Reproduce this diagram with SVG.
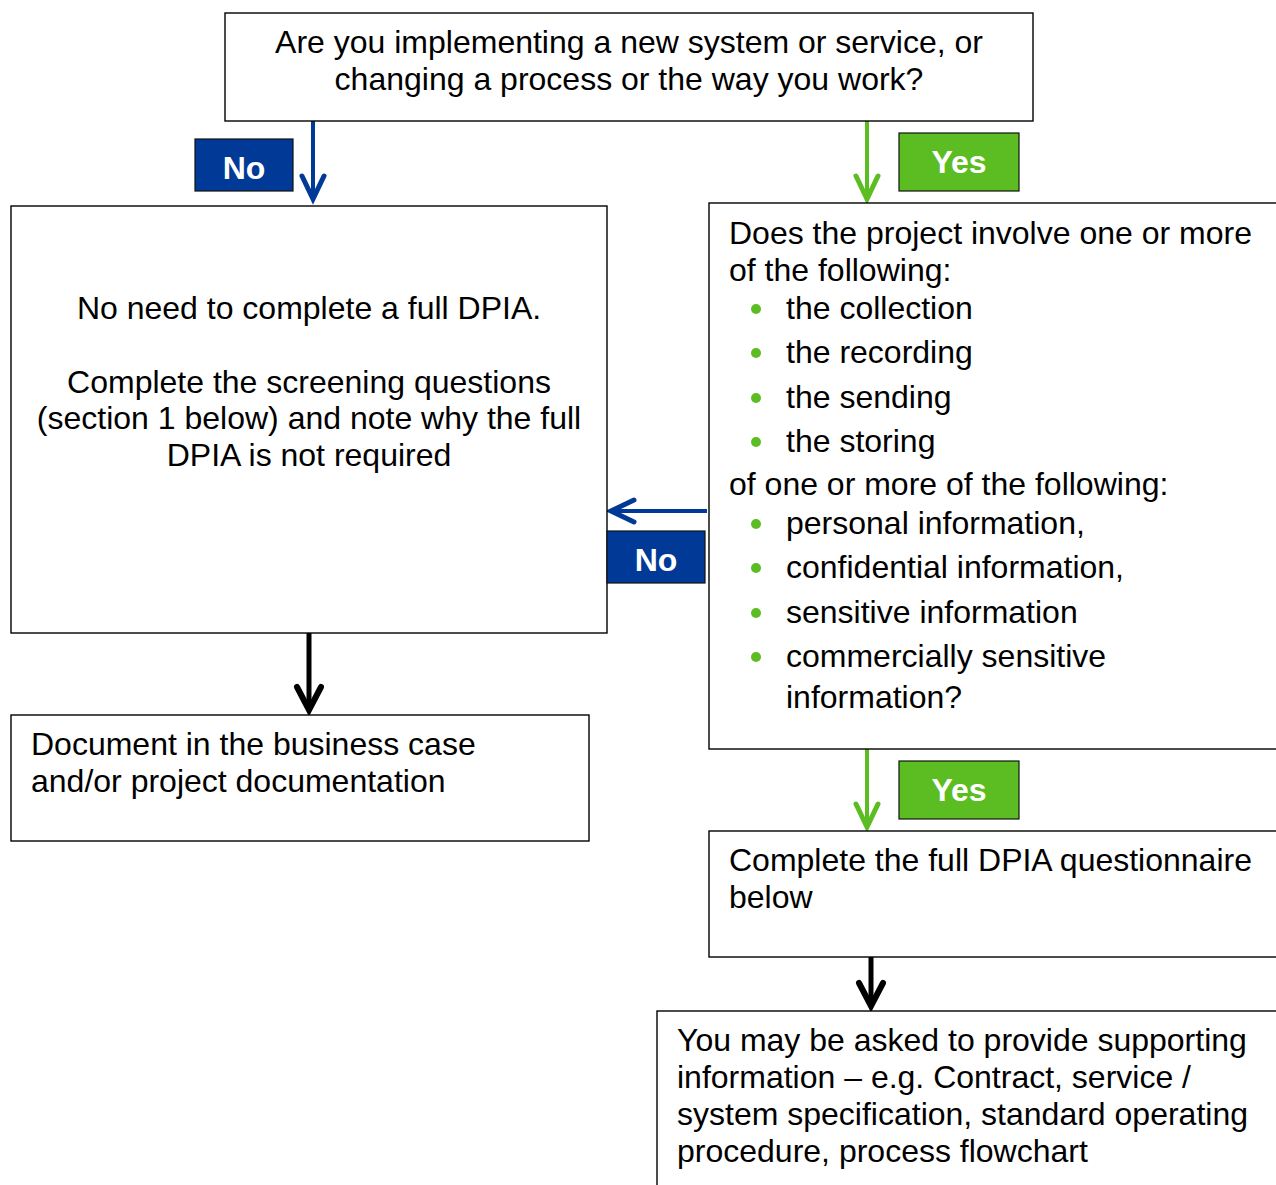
<svg xmlns="http://www.w3.org/2000/svg" width="1276" height="1185" viewBox="0 0 1276 1185">
<defs>
<style>
.box{fill:#fff;stroke:#000;stroke-width:1.4}
.t{font-family:"Liberation Sans",Arial,sans-serif;font-size:32px;fill:#000}
.c{text-anchor:middle}
.lbl{font-family:"Liberation Sans",Arial,sans-serif;font-size:32px;font-weight:bold;fill:#fff;text-anchor:middle}
.no{fill:#003A96;stroke:#111;stroke-width:1.2}
.yes{fill:#5BBD22;stroke:#111;stroke-width:1.2}
.bul{fill:#5BBD22}
.ab{stroke:#003A96;stroke-width:4;fill:none}
.ag{stroke:#5BBD22;stroke-width:4;fill:none}
.ak{stroke:#000;stroke-width:5;fill:none}
</style>
<marker id="mb" markerUnits="userSpaceOnUse" orient="auto" refX="0" refY="0" markerWidth="40" markerHeight="40" viewBox="-30 -20 40 40" overflow="visible"><path d="M-23,-11 L0,0 L-23,11" fill="none" stroke="#003A96" stroke-width="5" stroke-linecap="round" stroke-linejoin="miter"/></marker>
<marker id="mg" markerUnits="userSpaceOnUse" orient="auto" refX="0" refY="0" markerWidth="40" markerHeight="40" viewBox="-30 -20 40 40" overflow="visible"><path d="M-23,-11 L0,0 L-23,11" fill="none" stroke="#5BBD22" stroke-width="5" stroke-linecap="round" stroke-linejoin="miter"/></marker>
<marker id="mk" markerUnits="userSpaceOnUse" orient="auto" refX="0" refY="0" markerWidth="40" markerHeight="40" viewBox="-30 -20 40 40" overflow="visible"><path d="M-23,-12 L0,0 L-23,12" fill="none" stroke="#000" stroke-width="6" stroke-linecap="round" stroke-linejoin="miter"/></marker>
</defs>
<rect width="1276" height="1185" fill="#fff"/>

<g id="connectors">
<line class="ab" x1="313" y1="121" x2="313" y2="199" marker-end="url(#mb)"/>
<line class="ag" x1="867" y1="121" x2="867" y2="199" marker-end="url(#mg)"/>
<line class="ab" x1="707" y1="511" x2="611" y2="511" marker-end="url(#mb)"/>
<line class="ag" x1="867" y1="749" x2="867" y2="827" marker-end="url(#mg)"/>
<line class="ak" x1="309" y1="633" x2="309" y2="710" marker-end="url(#mk)"/>
<line class="ak" x1="871" y1="957" x2="871" y2="1006" marker-end="url(#mk)"/>
</g>

<g id="q1">
<rect class="box" x="225" y="13" width="808" height="108"/>
<text class="t c" x="629" y="53">Are you implementing a new system or service, or</text>
<text class="t c" x="629" y="90">changing a process or the way you work?</text>
</g>

<g id="no-need">
<rect class="box" x="11" y="206" width="596" height="427"/>
<text class="t c" x="309" y="319">No need to complete a full DPIA.</text>
<text class="t c" x="309" y="393">Complete the screening questions</text>
<text class="t c" x="309" y="429">(section 1 below) and note why the full</text>
<text class="t c" x="309" y="466">DPIA is not required</text>
</g>

<g id="document">
<rect class="box" x="11" y="715" width="578" height="126"/>
<text class="t" x="31" y="755">Document in the business case</text>
<text class="t" x="31" y="792">and/or project documentation</text>
</g>

<g id="q2">
<rect class="box" x="709" y="203" width="600" height="546"/>
<text class="t" x="729" y="244">Does the project involve one or more</text>
<text class="t" x="729" y="281">of the following:</text>
<circle class="bul" cx="756" cy="309" r="5"/>
<text class="t" x="786" y="319">the collection</text>
<circle class="bul" cx="756" cy="353" r="5"/>
<text class="t" x="786" y="363">the recording</text>
<circle class="bul" cx="756" cy="398" r="5"/>
<text class="t" x="786" y="408">the sending</text>
<circle class="bul" cx="756" cy="442" r="5"/>
<text class="t" x="786" y="452">the storing</text>
<text class="t" x="729" y="495">of one or more of the following:</text>
<circle class="bul" cx="756" cy="524" r="5"/>
<text class="t" x="786" y="534">personal information,</text>
<circle class="bul" cx="756" cy="568" r="5"/>
<text class="t" x="786" y="578">confidential information,</text>
<circle class="bul" cx="756" cy="613" r="5"/>
<text class="t" x="786" y="623">sensitive information</text>
<circle class="bul" cx="756" cy="657" r="5"/>
<text class="t" x="786" y="667">commercially sensitive</text>
<text class="t" x="786" y="708">information?</text>
</g>

<g id="full-dpia">
<rect class="box" x="709" y="831" width="600" height="126"/>
<text class="t" x="729" y="871">Complete the full DPIA questionnaire</text>
<text class="t" x="729" y="908">below</text>
</g>

<g id="supporting">
<rect class="box" x="657" y="1011" width="660" height="200"/>
<text class="t" x="677" y="1051">You may be asked to provide supporting</text>
<text class="t" x="677" y="1088">information – e.g. Contract, service /</text>
<text class="t" x="677" y="1125">system specification, standard operating</text>
<text class="t" x="677" y="1162">procedure, process flowchart</text>
</g>

<g id="label-no-1">
<rect class="no" x="195" y="139" width="98" height="52"/>
<text class="lbl" x="244" y="179">No</text>
</g>
<g id="label-yes-1">
<rect class="yes" x="899" y="133" width="120" height="58"/>
<text class="lbl" x="959" y="173">Yes</text>
</g>
<g id="label-no-2">
<rect class="no" x="607" y="531" width="98" height="52"/>
<text class="lbl" x="656" y="571">No</text>
</g>
<g id="label-yes-2">
<rect class="yes" x="899" y="761" width="120" height="58"/>
<text class="lbl" x="959" y="801">Yes</text>
</g>
</svg>
